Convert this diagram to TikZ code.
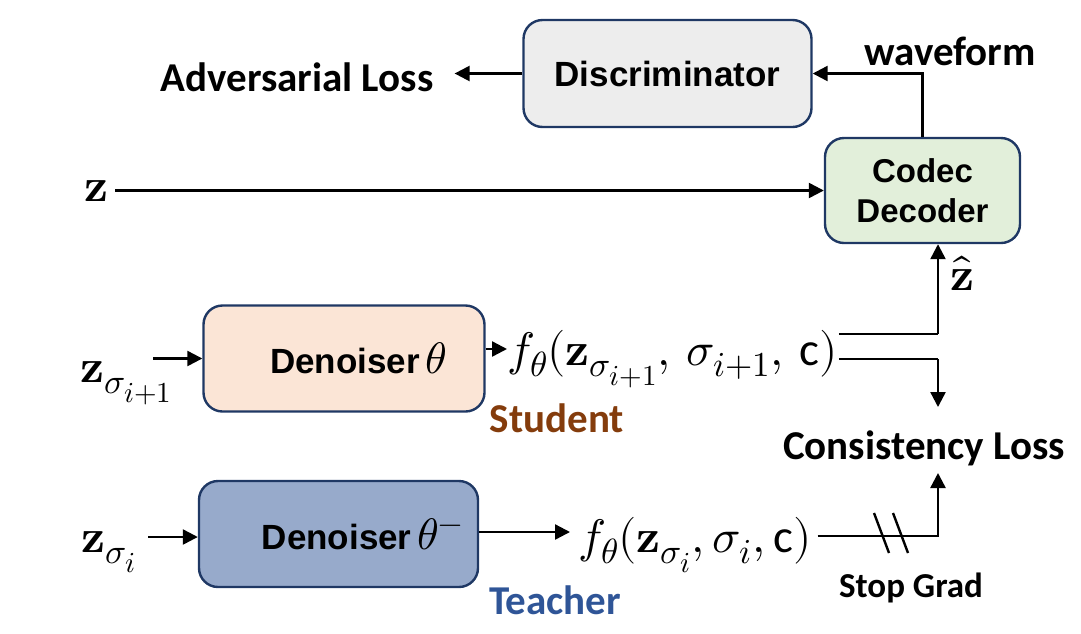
\documentclass[tikz,border=0pt]{standalone}
\usepackage{fontspec}
\usepackage{unicode-math}
\setmainfont{Liberation Sans}
\setmathfont{Latin Modern Math}
\newfontfamily\calib{Carlito}
\DeclareMathSizes{47}{47}{35}{29}
\usetikzlibrary{arrows.meta,calc}
\definecolor{navy}{HTML}{1F3864}
\definecolor{discfill}{HTML}{EDEDED}
\definecolor{codecfill}{HTML}{E2EFDA}
\definecolor{stufill}{HTML}{FBE5D6}
\definecolor{teafill}{HTML}{97AACB}
\definecolor{stubrown}{HTML}{843C0C}
\definecolor{teablue}{HTML}{2F5597}
\begin{document}
\begin{tikzpicture}[x=1pt,y=-1pt,
  box/.style={draw=navy, line width=2.4pt, rounded corners=19pt, inner sep=0pt,
    font=\fontsize{35}{40}\bfseries\selectfont, align=center},
  arr/.style={line width=2.4pt, -{Triangle[length=15pt,width=15pt]}},
  ln/.style={line width=2.4pt},
  lbl/.style={font=\calib\fontsize{41}{46}\bfseries\selectfont, inner sep=0pt},
  mth/.style={font=\fontsize{47}{50}\selectfont, inner sep=0pt}]
\useasboundingbox (0,0) rectangle (1081,633);

% boxes
\node[box, fill=discfill, minimum width=288pt, minimum height=107pt] (disc) at (667.5,73.5) {Discriminator};
\node[box, fill=codecfill, minimum width=195pt, minimum height=105pt,
  font=\fontsize{33}{40}\bfseries\selectfont] (codec) at (922.5,190.5) {Codec\\Decoder};
\node[box, fill=stufill, minimum width=281pt, minimum height=106pt] (stu) at (344,358.5)
  {\hspace*{29pt}Denoiser\,{\fontsize{44}{44}\selectfont$\theta$}};
\node[box, fill=teafill, minimum width=279pt, minimum height=106pt] (tea) at (338.5,534)
  {\hspace*{48pt}Denoiser\,{\fontsize{44}{44}\selectfont$\theta^{-}$}};

% labels
\node[lbl, anchor=base] (advl) at (297,91) {Adversarial Loss};
\node[lbl, anchor=base] (wave) at (950,65) {waveform};
\node[lbl, anchor=base, text=stubrown] (stul) at (557,432) {Student};
\node[lbl, anchor=base, text=teablue] (teal) at (555,614) {Teacher};
\node[lbl, anchor=base] (cl) at (924,459) {Consistency Loss};
\node[lbl, anchor=base, font=\calib\fontsize{35}{40}\bfseries\selectfont] (sg) at (911,597) {Stop Grad};

% math
\node[mth, anchor=base west] (zl) at (84,201) {$\symbf{z}$};
\node[mth, anchor=base] (zhat) at (962,290) {$\hat{\symbf{z}}$};
\node[mth, anchor=base west] (zs1) at (80,382) {$\symbf{z}_{\sigma_{i+1}}$};
\node[mth, anchor=base west] (zs0) at (81,552) {$\symbf{z}_{\sigma_{i}}$};
\node[mth, anchor=base west] (sfs) at (507,365) {$f_\theta(\symbf{z}_{\sigma_{i+1}},\,\sigma_{i+1},\,\mbox{\calib c})$};
\node[mth, anchor=base west] (tfs) at (578,552) {$f_\theta(\symbf{z}_{\sigma_{i}},\sigma_{i},\mbox{\calib c})$};

% coordinates
\coordinate (a1) at (153,358.5);
\coordinate (a2) at (148,537);
\coordinate (J1) at (938,334);
\coordinate (J2) at (938,359);
\coordinate (J3) at (938,536);
\coordinate (CLtop) at (938,407);
\coordinate (CLbot) at (938,473);

% connectors
\draw[arr, shorten >=21pt] (disc.west) -- (disc.west -| advl.east);
\draw[arr] (codec.north) |- (disc.east);
\draw[arr] ([xshift=7pt]zl.east |- codec.west) -- (codec.west);
\draw[arr] (a1) -- (a1 -| stu.west);
\draw[arr] (a2) -- (a2 -| tea.west);
\draw[arr] (stu.east |- 0,349) -- (sfs.west |- 0,349);
\draw[arr, shorten >=8pt] (tea.east |- 0,532) -- (tfs.west |- 0,532);
\draw[ln] ([xshift=1pt]sfs.east |- J1) -- (J1);
\draw[arr] (J1) -- (J1 |- codec.south);
\draw[ln] ([xshift=1pt]sfs.east |- J2) -- (J2);
\draw[arr] (J2) -- (CLtop);
\draw[arr] ([xshift=6pt]tfs.east |- J3) -- (J3) -- (CLbot);
\draw[ln] (874,513) -- (889,553);
\draw[ln] (893,513) -- (908,553);
\end{tikzpicture}
\end{document}
